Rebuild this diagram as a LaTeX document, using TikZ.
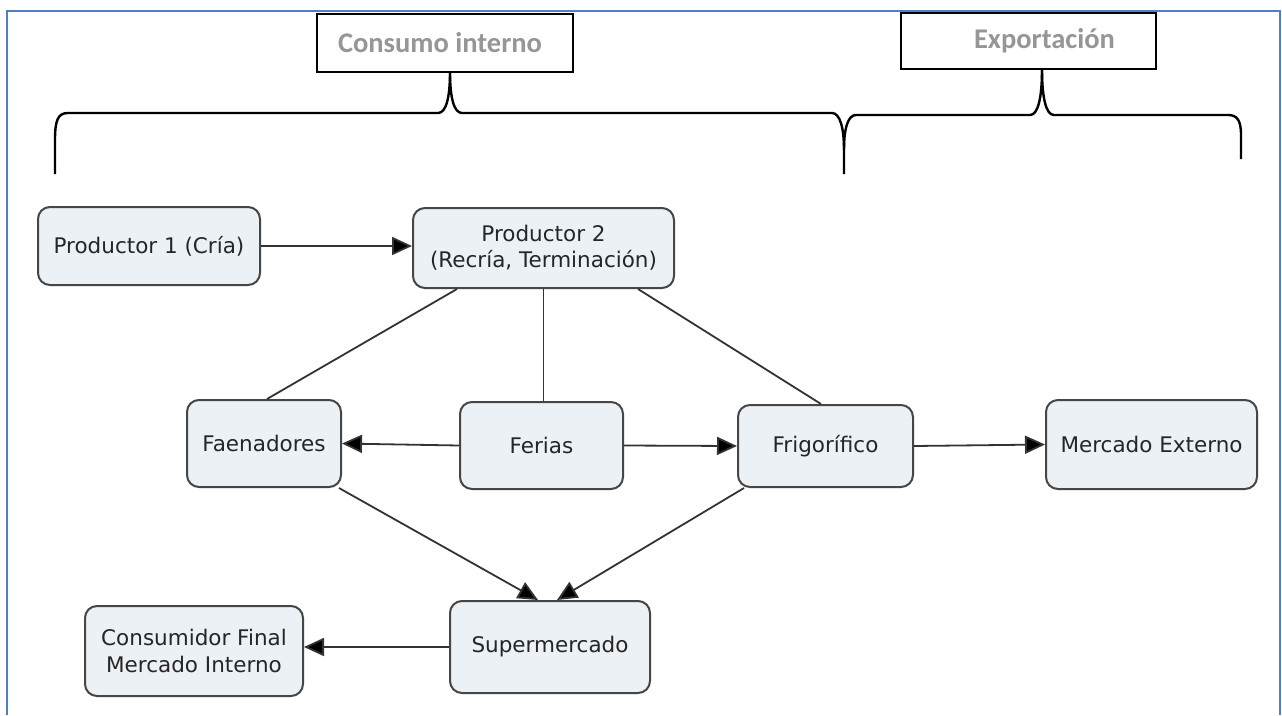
\documentclass[tikz,border=0pt]{standalone}
\usepackage{fontspec}
\setmainfont{DejaVu Sans}
\newfontfamily\hdrfont{Carlito}
\usetikzlibrary{arrows.meta}
\definecolor{framecol}{RGB}{79,129,189}
\definecolor{boxfill}{RGB}{235,241,245}
\definecolor{boxline}{RGB}{70,70,70}
\definecolor{hdrtext}{RGB}{150,150,150}
\tikzset{
  cbox/.style={draw=boxline, line width=2pt, fill=boxfill, rounded corners=12pt,
    align=center, inner sep=0pt, font=\fontsize{21.5}{26}\selectfont, text=black!85},
  hbox/.style={draw=black, line width=2.6pt, fill=white, inner sep=0pt,
    font=\hdrfont\bfseries\fontsize{28.5}{32}\selectfont, text=hdrtext},
  conn/.style={line width=1.8pt, draw=black!80},
  arr/.style={conn, -{Triangle[length=20pt,width=18pt,fill=black]}},
  bracel/.style={line width=2.4pt, draw=black}
}
\begin{document}
\begin{tikzpicture}[x=1pt,y=-1pt]
\useasboundingbox (0,0) rectangle (1282,715);
\fill[white] (0,0) rectangle (1282,715);
% frame
\draw[framecol, line width=2.5pt] (7,715) -- (7,11) -- (1280,11) -- (1280,715);
% header boxes
\node[hbox, minimum width=256pt, minimum height=58pt] (ci) at (445,43) {\hspace*{-10pt}Consumo interno};
\node[hbox, minimum width=255pt, minimum height=56pt] (ex) at (1028.5,41) {\hspace*{32pt}Exportación};
% braces
\draw[bracel] (55,174) -- (55,140) .. controls (55,120) and (58,113) .. (68,113)
  -- (438,113) .. controls (446,113) and (450,98) .. (450,72);
\draw[bracel] (450,72) .. controls (450,98) and (454,113) .. (462,113)
  -- (832,113) .. controls (840,113) and (844,128) .. (844,150) -- (844,174);
\draw[bracel] (844,150) .. controls (844,128) and (848,115) .. (856,115)
  -- (1030,115) .. controls (1038,115) and (1042,98) .. (1042,69);
\draw[bracel] (1042,69) .. controls (1042,98) and (1046,115) .. (1054,115)
  -- (1228,115) .. controls (1237,115) and (1241,120) .. (1241,135) -- (1241,159);
% concept boxes
\node[cbox, minimum width=222pt, minimum height=78pt] (p1) at (149,246) {Productor 1 (Cría)};
\node[cbox, minimum width=261pt, minimum height=80pt] (p2) at (543.5,248) {Productor 2\\(Recría, Terminación)};
\node[cbox, minimum width=154pt, minimum height=87pt] (fae) at (264,443.5) {Faenadores};
\node[cbox, minimum width=163pt, minimum height=87pt] (fer) at (541.5,445.5) {Ferias};
\node[cbox, minimum width=175pt, minimum height=82pt] (fri) at (825.5,446) {Frigorífico};
\node[cbox, minimum width=211pt, minimum height=89pt] (mer) at (1151.5,444.5) {Mercado Externo};
\node[cbox, minimum width=200pt, minimum height=92pt] (sup) at (550,647) {Supermercado};
\node[cbox, minimum width=218pt, minimum height=90pt, font=\fontsize{21.5}{27}\selectfont] (con) at (194,651) {Consumidor Final\\Mercado Interno};
% connectors
\draw[arr] (p1.east) -- (p1.east -| p2.west);
\draw[conn] ([xshift=45pt]p2.south west) -- ([xshift=81pt]fae.north west);
\draw[conn] (p2.south) -- (p2.south |- fer.north);
\draw[conn] ([xshift=-37pt]p2.south east) -- ([xshift=84pt]fri.north west);
\draw[arr] (fer.west) -- (fae.east);
\draw[arr] (fer.east) -- (fri.west);
\draw[arr] (fri.east) -- (mer.west);
\draw[arr] ([xshift=-3pt]fae.south east) -- ([xshift=89pt]sup.north west);
\draw[arr] ([xshift=7pt]fri.south west) -- ([xshift=108pt]sup.north west);
\draw[arr] (sup.west) -- (sup.west -| con.east);
\end{tikzpicture}
\end{document}
